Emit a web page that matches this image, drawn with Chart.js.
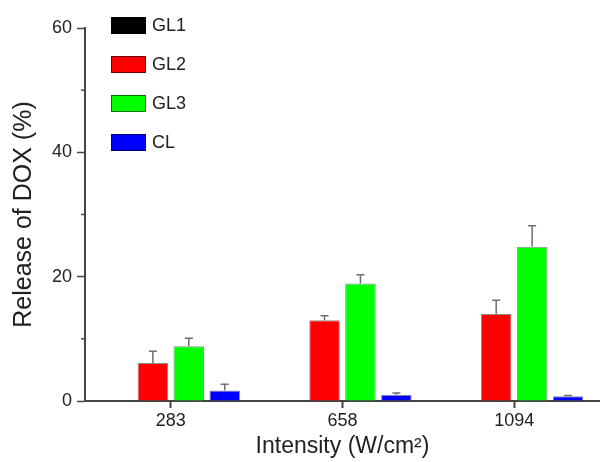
<!DOCTYPE html>
<html>
<head>
<meta charset="utf-8">
<script src="https://cdn.jsdelivr.net/npm/chart.js@4/dist/chart.umd.min.js"></script>
<style>
  html, body { margin: 0; padding: 0; background: #fff; }
  #wrap { width: 600px; height: 462px; }
</style>
</head>
<body>
<div id="wrap"><canvas id="myChart"></canvas></div>
<script>
const intensities = ["283", "658", "1094"];
const seriesNames = ["GL1", "GL2", "GL3", "CL"];
const gl1Values = [0, 0, 0];
const gl2Values = [6.1, 13.0, 14.0];
const gl3Values = [8.8, 18.9, 24.8];
const clValues = [1.7, 1.0, 0.75];
const gl1Errors = [0, 0, 0];
const gl2Errors = [1.9, 0.7, 2.2];
const gl3Errors = [1.3, 1.4, 3.4];
const clErrors = [1.0, 0.3, 0.15];
const yTicks = [0, 20, 40, 60];

const axisColor = "#444";
const fontFamily = "'Liberation Sans', Arial, sans-serif";

// up-only error bars, taken from each bar's own position
const errorBars = {
  id: "errorBars",
  afterDatasetsDraw(chart) {
    const ctx = chart.ctx;
    const yScale = chart.scales.y;
    ctx.save();
    ctx.strokeStyle = "#6e6e6e";
    ctx.lineWidth = 1.5;
    chart.data.datasets.forEach((ds, i) => {
      const meta = chart.getDatasetMeta(i);
      meta.data.forEach((bar, j) => {
        const err = ds.errors[j];
        if (!err) return;
        const top = yScale.getPixelForValue(ds.data[j] + err);
        ctx.beginPath();
        ctx.moveTo(bar.x, bar.y);
        ctx.lineTo(bar.x, top);
        ctx.moveTo(bar.x - 4, top);
        ctx.lineTo(bar.x + 4, top);
        ctx.stroke();
      });
    });
    ctx.restore();
  }
};

// short minor ticks on the y axis
const minorTicks = {
  id: "minorTicks",
  afterDraw(chart) {
    const ctx = chart.ctx;
    const y = chart.scales.y;
    ctx.save();
    ctx.strokeStyle = axisColor;
    ctx.lineWidth = 1.5;
    [10, 30, 50].forEach((v) => {
      const py = y.getPixelForValue(v);
      ctx.beginPath();
      ctx.moveTo(y.right - 4, py);
      ctx.lineTo(y.right, py);
      ctx.stroke();
    });
    ctx.restore();
  }
};

// legend drawn inside the plot, top left
const innerLegend = {
  id: "innerLegend",
  afterDraw(chart) {
    const ctx = chart.ctx;
    const area = chart.chartArea;
    ctx.save();
    ctx.font = "18px " + fontFamily;
    ctx.textBaseline = "middle";
    chart.data.datasets.forEach((ds, i) => {
      const x = area.left + 26;
      const y = area.top - 11 + i * 39;
      ctx.fillStyle = ds.backgroundColor;
      ctx.fillRect(x, y, 35, 17);
      ctx.strokeStyle = "rgba(0,0,0,0.55)";
      ctx.lineWidth = 1;
      ctx.strokeRect(x + 0.5, y + 0.5, 34, 16);
      ctx.fillStyle = "#222";
      ctx.fillText(ds.label, x + 41, y + 9);
    });
    ctx.restore();
  }
};

function makeSet(label, data, errors, color) {
  return {
    label: label,
    data: data,
    errors: errors,
    backgroundColor: color,
    borderColor: "rgba(0,0,0,0.45)",
    borderWidth: label === "GL1" ? 0 : 1,
    categoryPercentage: 0.837,
    barPercentage: 0.85
  };
}

const ctx = document.getElementById("myChart").getContext("2d");
const chart = new Chart(ctx, {
  type: "bar",
  data: {
    labels: intensities,
    datasets: [
      makeSet(seriesNames[0], gl1Values, gl1Errors, "#000000"),
      makeSet(seriesNames[1], gl2Values, gl2Errors, "#ff0000"),
      makeSet(seriesNames[2], gl3Values, gl3Errors, "#00ff00"),
      makeSet(seriesNames[3], clValues, clErrors, "#0000ff")
    ]
  },
  options: {
    responsive: true,
    maintainAspectRatio: false,
    animation: false,
    layout: { padding: { top: 28, right: 0, left: 0, bottom: 0 } },
    plugins: { legend: { display: false }, tooltip: { enabled: false } },
    scales: {
      x: {
        afterFit(scale) { scale.height = 61; },
        grid: {
          offset: false,
          drawOnChartArea: false,
          tickLength: 7,
          tickColor: axisColor,
          tickWidth: 2
        },
        border: { color: axisColor, width: 2 },
        ticks: {
          color: "#222",
          padding: 2,
          font: { family: fontFamily, size: 18 }
        },
        title: {
          display: true,
          text: "Intensity (W/cm²)",
          color: "#222",
          padding: { top: 0, bottom: 2 },
          font: { family: fontFamily, size: 23 }
        }
      },
      y: {
        min: 0,
        max: 60,
        afterFit(scale) { scale.width = 85; },
        afterBuildTicks(scale) {
          scale.ticks = yTicks.map((v) => ({ value: v }));
        },
        grid: {
          drawOnChartArea: false,
          tickLength: 8,
          tickColor: axisColor,
          tickWidth: 1.5
        },
        border: { color: axisColor, width: 2 },
        ticks: {
          color: "#222",
          padding: 5,
          font: { family: fontFamily, size: 18 }
        },
        title: {
          display: true,
          text: "Release of DOX (%)",
          color: "#222",
          padding: { top: 9, bottom: 0 },
          font: { family: fontFamily, size: 25 }
        }
      }
    }
  },
  plugins: [errorBars, minorTicks, innerLegend]
});
</script>
</body>
</html>
